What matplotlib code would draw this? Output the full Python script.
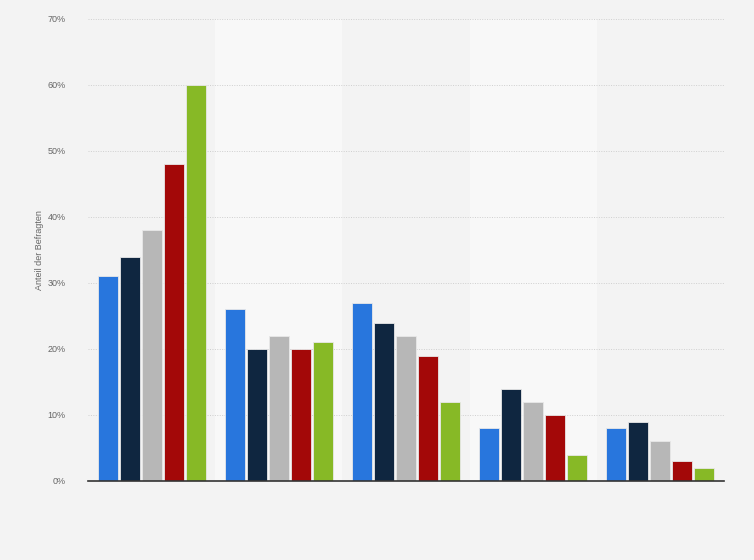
import matplotlib

matplotlib.use("Agg")
import matplotlib.pyplot as plt
import numpy as np

# Five answer groups, five series each (no category labels shown in the source)
groups = ["", "", "", "", ""]
series_colors = ["#2876dd", "#0f2640", "#b7b7b7", "#a30808", "#87b926"]
series_1 = [31, 26, 27, 8, 8]
series_2 = [34, 20, 24, 14, 9]
series_3 = [38, 22, 22, 12, 6]
series_4 = [48, 20, 19, 10, 3]
series_5 = [60, 21, 12, 4, 2]
series_values = [series_1, series_2, series_3, series_4, series_5]
y_ticks = [0, 10, 20, 30, 40, 50, 60, 70]
y_label = "Anteil der Befragten"

plt.rcParams["font.family"] = ["Liberation Sans", "DejaVu Sans"]

fig = plt.figure(figsize=(7.54, 5.6), dpi=100, facecolor="#f3f3f3")
ax = fig.add_axes([88 / 754, 1 - 481 / 560, (724 - 88) / 754, (481 - 19) / 560])
ax.set_facecolor("#f3f3f3")

n = len(groups)
x = np.arange(n)
bar_w = 0.158
step = 0.173
for i, (vals, col) in enumerate(zip(series_values, series_colors)):
    offs = (i - 2) * step
    ax.bar(x + offs, vals, width=bar_w, color=col, edgecolor="#e8e8e8",
           linewidth=0.6, zorder=3)

# alternating lighter column bands
for k in range(n):
    if k % 2 == 1:
        ax.axvspan(k - 0.5, k + 0.5, color="#f8f8f8", zorder=0, linewidth=0)

ax.set_xlim(-0.5, n - 0.5)
ax.set_ylim(0, 70)
ax.set_yticks(y_ticks)
ax.set_yticklabels([f"{t}%" for t in y_ticks])
ax.set_xticks([])
ax.tick_params(axis="y", length=0, pad=16, labelsize=6.5, labelcolor="#666666")
ax.yaxis.grid(True, linestyle=(0, (1, 1.5)), linewidth=0.7, color="#cfcfcf", zorder=1)
for s in ["top", "right", "left"]:
    ax.spines[s].set_visible(False)
ax.spines["bottom"].set_color("#333333")
ax.spines["bottom"].set_linewidth(1.2)
ax.spines["bottom"].set_zorder(4)

fig.text(40 / 754, 1 - 250 / 560, y_label, rotation=90, ha="center", va="center",
         fontsize=6.5, color="#666666")

fig.savefig("out.png", dpi=100, facecolor=fig.get_facecolor())
